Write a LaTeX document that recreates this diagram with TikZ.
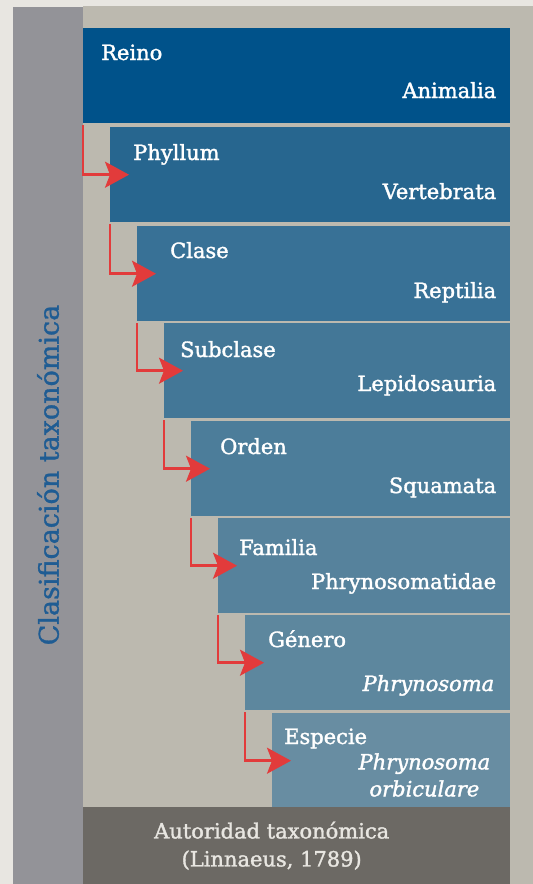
\documentclass[tikz,border=0pt]{standalone}
\usepackage{fontspec}
\setmainfont{DejaVu Serif}
\newfontfamily\boxfont[FakeBold=1.6]{DejaVu Serif}
\newfontfamily\titlefont[FakeBold=1.2]{DejaVu Serif}
\usetikzlibrary{arrows.meta}
\definecolor{paper}{HTML}{E8E6E1}
\definecolor{sidebar}{HTML}{939398}
\definecolor{panel}{HTML}{BCB9AF}
\definecolor{rankA}{HTML}{00528A}
\definecolor{rankB}{HTML}{27668F}
\definecolor{rankC}{HTML}{387196}
\definecolor{rankD}{HTML}{437797}
\definecolor{rankE}{HTML}{4C7D9A}
\definecolor{rankF}{HTML}{56829C}
\definecolor{rankG}{HTML}{5D879E}
\definecolor{rankH}{HTML}{688DA2}
\definecolor{authority}{HTML}{6C6964}
\definecolor{arrowred}{HTML}{E23B3B}
\definecolor{titleblue}{HTML}{1F5C93}

\begin{document}
\begin{tikzpicture}[x=1pt,y=-1pt,
  taxbox/.style={anchor=north west, inner sep=0pt, minimum height=95pt},
  lefttxt/.style={anchor=base west, inner sep=0pt, text=white, font=\boxfont\fontsize{21}{25}\selectfont},
  righttxt/.style={anchor=base east, inner sep=0pt, text=white, font=\boxfont\fontsize{21}{25}\selectfont},
  redarrow/.style={draw=arrowred, line width=2.5pt, -{Stealth[length=24pt, width=26pt, inset=5pt]}}]
  \useasboundingbox (0,0) rectangle (533,884);
  % background
  \fill[paper] (0,0) rectangle (533,884);
  \fill[sidebar] (13,7) rectangle (83,884);
  \fill[panel] (83,6) rectangle (533,884);
  \node[rotate=90, text=titleblue, font=\titlefont\fontsize{27}{30}\selectfont] (title) at (48,475) {Clasificación taxonómica};

  % rank boxes
  \node[taxbox, fill=rankA, minimum width=427pt] (reino) at (83,28) {};
  \node[taxbox, fill=rankB, minimum width=400pt] (phyllum) at (110,127) {};
  \node[taxbox, fill=rankC, minimum width=373pt] (clase) at (137,226) {};
  \node[taxbox, fill=rankD, minimum width=346pt] (subclase) at (164,323) {};
  \node[taxbox, fill=rankE, minimum width=319pt] (orden) at (191,421) {};
  \node[taxbox, fill=rankF, minimum width=292pt] (familia) at (218,518) {};
  \node[taxbox, fill=rankG, minimum width=265pt] (genero) at (245,615) {};
  \node[taxbox, fill=rankH, minimum width=238pt] (especie) at (272,713) {};
  \node[taxbox, fill=authority, minimum width=427pt, minimum height=77pt] (autoridad) at (83,807) {};

  % labels
  \node[lefttxt] at ([shift={(18,32)}]reino.north west) {Reino};
  \node[righttxt] at ([shift={(-14,70)}]reino.north east) {Animalia};
  \node[lefttxt] at ([shift={(23,33)}]phyllum.north west) {Phyllum};
  \node[righttxt] at ([shift={(-14,72)}]phyllum.north east) {Vertebrata};
  \node[lefttxt] at ([shift={(33,32)}]clase.north west) {Clase};
  \node[righttxt] at ([shift={(-14,72)}]clase.north east) {Reptilia};
  \node[lefttxt] at ([shift={(16,34)}]subclase.north west) {Subclase};
  \node[righttxt] at ([shift={(-14,68)}]subclase.north east) {Lepidosauria};
  \node[lefttxt] at ([shift={(29,33)}]orden.north west) {Orden};
  \node[righttxt] at ([shift={(-14,72)}]orden.north east) {Squamata};
  \node[lefttxt] at ([shift={(21,37)}]familia.north west) {Familia};
  \node[righttxt] at ([shift={(-14,71)}]familia.north east) {Phrynosomatidae};
  \node[lefttxt] at ([shift={(23,32)}]genero.north west) {Género};
  \node[righttxt, font=\boxfont\fontsize{21}{25}\selectfont\itshape] at ([shift={(-16,76)}]genero.north east) {Phrynosoma};
  \node[lefttxt] at ([shift={(12,31)}]especie.north west) {Especie};
  \node[text=white, align=center, inner sep=0pt, font=\boxfont\fontsize{21}{27}\selectfont\itshape] at ([shift={(-86,62)}]especie.north east) {Phrynosoma\\orbiculare};
  \node[text=paper, align=center, inner sep=0pt, font=\boxfont\fontsize{21}{28}\selectfont] at ([xshift=-25pt]autoridad.center) {Autoridad taxonómica\\(Linnaeus, 1789)};

  % arrows
  \draw[redarrow] ([yshift=-2pt]reino.south west) |- ([xshift=19pt]phyllum.west);
  \draw[redarrow] ([yshift=-2pt]phyllum.south west) |- ([xshift=19pt]clase.west);
  \draw[redarrow] ([yshift=-2pt]clase.south west) |- ([xshift=19pt]subclase.west);
  \draw[redarrow] ([yshift=-2pt]subclase.south west) |- ([xshift=19pt]orden.west);
  \draw[redarrow] ([yshift=-2pt]orden.south west) |- ([xshift=19pt]familia.west);
  \draw[redarrow] ([yshift=-2pt]familia.south west) |- ([xshift=19pt]genero.west);
  \draw[redarrow] ([yshift=-2pt]genero.south west) |- ([xshift=19pt]especie.west);
\end{tikzpicture}
\end{document}
